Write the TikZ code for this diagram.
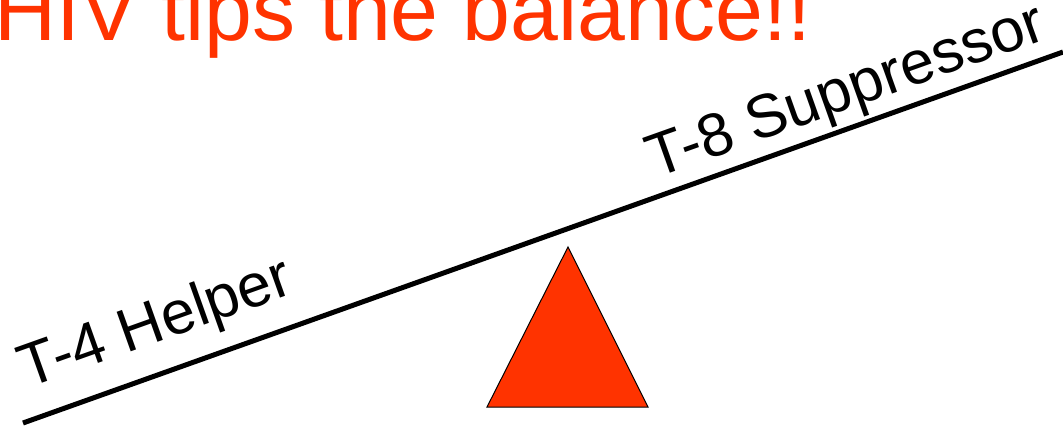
\documentclass[tikz,border=0pt]{standalone}
\usepackage{fontspec}
\setmainfont{Liberation Sans}
\usetikzlibrary{calc}
\definecolor{hivred}{HTML}{FF3300}

\begin{document}
\begin{tikzpicture}[
  x=1pt,y=-1pt,
  beam/.style={line width=5pt,draw=black},
  lbl/.style={inner sep=0pt,font=\fontsize{61}{63}\selectfont,rotate=19.6,anchor=base west},
  ttl/.style={inner sep=0pt,font=\fontsize{86}{90}\selectfont,color=hivred,anchor=base west},
  fulcrum/.style={draw=black,line width=1pt,fill=hivred,line join=miter}]
  \useasboundingbox (0,0) rectangle (1063,426);
  \node[ttl] (title) at (-6,40) {HIV tips the balance!!};
  % the seesaw
  \coordinate (lend) at (23,423);
  \coordinate (rend) at (1063,52);
  \draw[beam] (lend) -- (rend);
  \node[lbl] (helper) at ($(lend)!16pt!(rend)!31pt!90:(rend)$) {T-4 Helper};
  \node[lbl] (suppr) at ($(lend)!678pt!(rend)!18pt!90:(rend)$) {T-8 Suppressor};
  % pivot
  \coordinate (apex) at (568,247);
  \coordinate (bl) at (487,407);
  \coordinate (br) at (648,407);
  \draw[fulcrum] (apex) -- (bl) -- (br) -- cycle;
\end{tikzpicture}
\end{document}
